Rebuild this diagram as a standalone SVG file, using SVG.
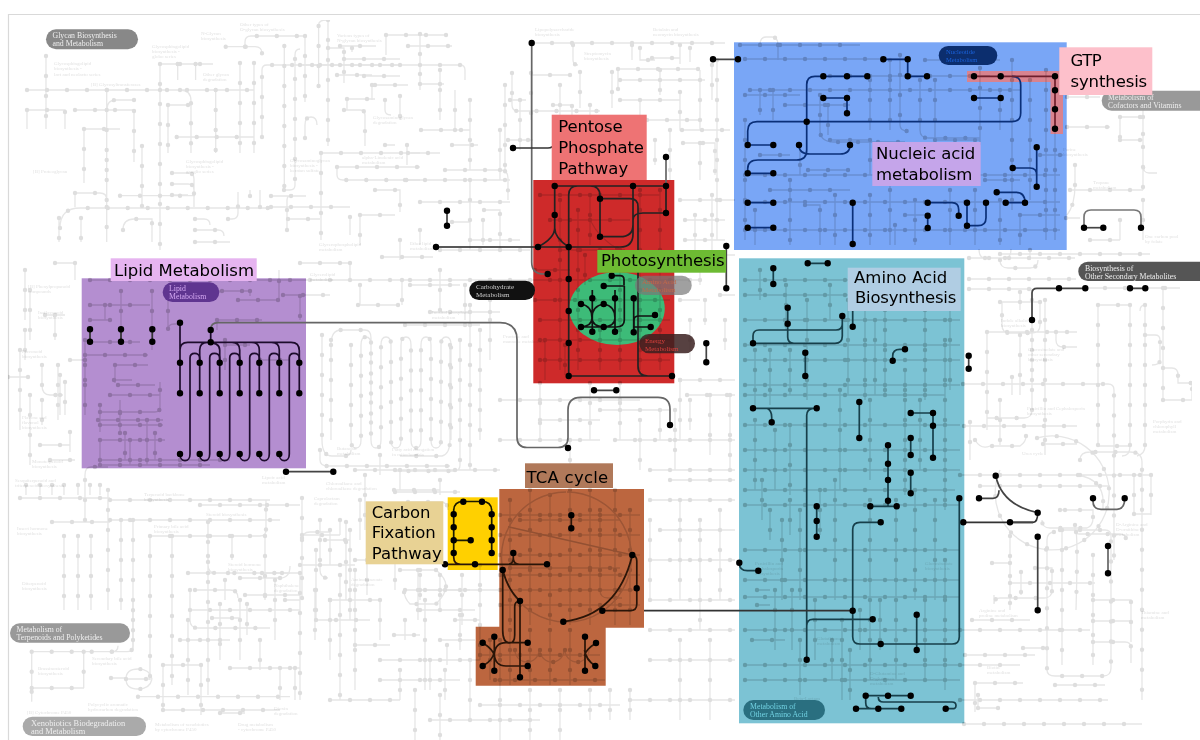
<svg xmlns="http://www.w3.org/2000/svg" width="1200" height="740" viewBox="0 0 1200 740">
<style>
.nl{stroke:#e6e6e6;stroke-width:1.3;fill:none}
.nd{stroke:#dedede;stroke-width:4.4;stroke-linecap:round;stroke-dasharray:0 20;fill:none}
.nl2{stroke:#f3f3f3;stroke-width:1.3;fill:none}
.nd2{stroke:#e8e8e8;stroke-width:4.4;stroke-linecap:round;stroke-dasharray:0 20;fill:none}
.net{mix-blend-mode:multiply;filter:url(#b)}
.ft{font:5px "Liberation Serif",serif;fill:#e2e2e2;mix-blend-mode:multiply}
.pt{font:7.8px "Liberation Serif",serif;fill:#eee}
.lb{font:16.5px "DejaVu Sans",sans-serif;fill:#000}
.k{fill:none;stroke-width:1.7;stroke-linejoin:round}
.d{fill:none;stroke:#000;stroke-width:6.4;stroke-linecap:round}
</style>
<defs>
<filter id="b" x="0" y="0" width="1" height="1"><feGaussianBlur stdDeviation="0.35"/></filter>
<clipPath id="rg"><rect x="81.700" y="278.300" width="224.300" height="190"/><rect x="734" y="42.300" width="332.700" height="207.700"/><rect x="739" y="258.300" width="225.300" height="465"/><rect x="533.300" y="180" width="141" height="203.300"/><path d="M499.300 489H644V627.700H605.700V685.700H475.700V626.700H499.300Z"/></clipPath>
<g id="net">
<path d="M27 90H254M46 56V129M27 110V129M27 110H65V129M75 110H134V162M134 100H116q-9 0-9 9M106.700 90V183M84 129H120M84 129V183M142 146V208M120 195.700H195M75 193H100q6.700 0 6.700 6.700M75 193V207M106.700 160V207M160 64V250M160 64H213M177.700 64V80M195.600 64V80M160 90H180q11 0 11 11V153M168 105V153M168 105H191M215.700 90V153M240 63V153M254 63V153M176.700 137H254M60 228q0-20 20-20H270M59 218V242M81 218V242M106.700 207V242M123 230q0-11 11-11H152V242M172 173H188q6 0 6 6V207M172 184H188q6 0 6 6M172 195H188M262 137V70q0-5 5-5H400M225.700 46.700H255q7 0 7 7M245 46.700V42q0-6 6-6H305M284.300 46V190M284 190H290q5 0 5-5V55q0-6 5-6M305 36V102M305 138V125q0-8 6-8t6 8M318.600 86V25q0-5 8-5M328 20V146M328 48H344V83M344 59H400M344 110H360q5 0 5 5V146M321 153H420M321 153V240M337 167H420M337 167V175q0 5 6 5H420M271 196H306M271 207H350M288 219H320M287 230V200q0-5 6-5M228 219H232q6 0 6-6V192M250 196V190M260 207V190M195 219H204q6 0 6 6M195 230H218q6 0 6 6M195 242H230"/>
<path d="M340 46H376M352 48V52M386 35H448M386 35V55M408 46H452M364 76H400M420 34V90M300 65H460q5 0 5 5V80M337 75H372M375 85H408M372 85V100M385 100V110q0 5 6 5M400 96V120M347 99H375M347 99V110M440 70V120M420 84H444M421 130H470M455 130V90M385 145H395M407 145V165M452 145H478M470 100V170M408 153H440M405 180H510M420 202H510M484 210H500V250M470 180V250M440 250H530M452 222H470M483 220V245M500 130V180M505 85V170M520 100V150M510 100H526M420 230V245M360 215H395M360 215V245M400 240V260M375 190H400V212M445 170H500q8 0 8 8V200M350 217V235M470 240H520M382 257H433"/>
<path d="M532 43H725M573 45V60q0 5 5 5M632 45V60M640 48V60H655M618 69H700M618 69V90M620 80H705M652 58H680V62M680 45V64M690 48V62M712 65V100M512 73V105q0 6 6 6H600M531 73V120M580 72V108M612 72V108M570 75H530M640 80H660M660 70V95M680 80H700V70M620 100H680M640 100V120M680 92V130H730M700 80V130M717 60V240M647 120H700M590 105V180M553 105H572V120M508 140H533M640 130V180M670 130V180M683 143H715V175M700 143V180M655 140V165M560 85V115"/>
<path d="M680 200H735M685 240H725M685 220H725M712 195V250M695 215V250M675 255H735M700 260V285M720 295H735M705 300V325M680 300H700M690 320V360M725 320V350M680 380H735M687 395H735M690 400V430M675 410V470M710 395V455M730 395V470M670 440H735M650 470H735M670 480H735M650 500H735M660 530H735M650 520V600M680 500V600M700 520V630M720 510V600M650 560H735M650 600H735M650 630H735M650 660H735M680 640V720M710 640V720M630 700H735M610 690V720M630 690V720"/>
<path d="M740 45H860M760 45q0-8 6-8h6q6 0 6 8M778 45V60M745 59H905M830 76H990M750 90H1020M745 95H800M760 90V115M773 90V120M785 105H850M828 105V135M820 95V130q0 12 14 12H905M890 60V130M870 80V130M900 55V125q0 6 8 6M925 60H1000M920 80V130q0 8 8 8H980M935 80V140H980M980 68V145M1000 90V130M1012 60V210M1030 80V200M1046 70V240M1055 130V240M745 175H1060M745 202H1060M745 230H1060M745 120V240M755 210V245M790 180V245M770 190H850M805 205H820V245M835 195V245M870 195V245M890 170V245M905 215H925M915 200V245M950 190V245M895 225V245M975 190V245M1000 200V245M1040 155H1063M1020 215H1060M1020 215V245M985 180H1020M760 155H790M808 170H850M800 145V175M830 140H870M870 140V175"/>
<path d="M1067 97H1100M1067 127H1110M1120 117H1143V147M1143 117V97M1120 140H1143M1120 117V140M1143 147V165q0 8 6 8H1157M1143 147V190M1070 190H1143M1066 218H1080M1090 240H1120M1120 220V240M1030 250V260M1000 254H1150M1143 200V240M1075 165V185q0 20-8 30"/>
<path d="M969 258H1075M985 258q-6 0-6-9M1005 258q6 0 6-9M1000 260q0 8 8 8H1030q8 0 8-8M969 279H1076M969 289H1032M1085 288H1180M1020 292V310M1000 302H1040V325q0 8-8 8H1010q-8 0-8-8V302M987 332H1077M1056 332V340q0 7 7 7H1077M987 332V430M1020 335V395M1012 377V395M1032 300V400M1032 330V410q0 8-8 8H987M963 384H1108q6 0 6 6V560M1082 300H1082M1098 305H1130M1098 305V446H1130M1130 305V446q0 10-8 10M1145 305V446q0 8-8 10M1145 305q-5 0-5 6M1163 288V400M1163 368H1172q6 0 6 7V383H1192M1163 400H1192V383M1145 335H1155q5 0 5 5V360q0 5-8 5M964 426H1077M970 422V460M1000 400V445M1043 444H1077M1045 300V455M975 440q6 10 15 6H1020q6-4 6-10"/>
<path d="M1037 438A57 57 0 1 1 1000 470M960 475H1078H1150M1078 475Q1105 480 1103 505V510M1080 460q0-8 10-8H1130q12 0 12 10V700M1134 475V515M1151 475V515M1134 514H1151M980 486H1110M1065 510H1080M1075 525V530q0 4 4 4H1120q6 0 6 6M1060 510H1093V518q0 8-6 10H1050q-8 0-8-8M1060 530H1105q6 0 6 6V668q0 8-8 8H1055q-8 0-8-6V540q0-8 8-8M1062 530V665M1076 532Q1078 540 1076 610M1093 555V665M1010 536V600M992 563H1010M1010 563V610M1035 568H1052V590q0 8-8 8H1000q-6 0-6 6V595M1010 583H1095M1021 572V595M1093 600H1131V642M1093 621H1131M1093 642H1125q6 0 6 6V663M972 620H1030M960 630H1090M1023 648H1048M965 655H1035M960 665H1020M975 683H1023M978 695V708M978 708H1000M960 700H1108M975 683V712M964 724H1142M1055 685H1105"/>
<path d="M90 280H700M90 305H150M105 305V320M121 291V340M152 291V350M168 291V330q0-6 6-6H180M182 291H250M250 291V296M238 300H279V270M217 320H262M217 320V330M225 340V370M225 345H250M260 360H290M283 295H330M300 296V320M90 320H112M90 342H140M85 355H148M115 365H148M115 365V383M85 365V415M85 340V395M114 380H132M100 405V432M100 412H155q5 0 5-5V382M110 395H160M118 385H155M98 420H163M100 425H163M120 433V400M155 433V460M100 440V465M100 440H165M125 433V460M147 420V465M130 440V465M100 460H230M100 465H210"/>
<path d="M55 263H75M75 263V280M300 263H350M350 263V280M42 365V385q0 10 8 10H63M58 365V420M65 382V415M70 360H85M42 400V425M70 432V452M25 270V320M60 375V415M25 330V360M8 377H30M20 350V430M30 290V340M30 395V465M50 460H75M45 315H65M55 315V340M40 445H70"/>
<path d="M322 335V440q0 16 10 16H345q6 0 6-6M331 345q0-15 10-15H365q6 0 6 8V440M351 345V440q0 8 5 8t5-8V345q0-8 5-8t5 8V440q0 8 5 8t5-8V345q0-8 5-8t5 8V440q0 8 5 8t5-8V345q0-8 5-8t5 8V440q0 8 5 8t5-8V345q0-8 5-8t5 8V440q0 8 5 8t5-8V345q0-8 5-8t5 8V440M331 340V440M450 345V440q0 14-8 16H400M320 450V460q0 6 8 6H450M460 340V465q0 6-6 6H395M470 305V470M480 330V440M490 280V360M355 470H500M380 455V475M400 470V490M395 492H460M358 305H400M360 285V305M402 280V305M410 285H460M465 285V320M430 312H500M440 270V312M405 325H480"/>
<path d="M20 498H110M26 485V495M40 485V495M52 485V495M64 485V495M78 485V495M90 485V495M100 485V495M85 520V475q0-8 6-8H108M110 520H280M110 500H270M52 522H110M64 536V610M78 536V610M91 536V610M108 490V610M121 520V610M133 520V650M150 536V680M172 536V685M208 522V640M150 536H260q6 0 6-6V500M208 536V565q0 8 8 8H290M232 536V560M265 536V600M188 573H230M267 505H300M200 505H265M302 498V600M302 535H340M285 600H300M320 520V570q0 8 8 8M340 520V535M330 530V565M350 530V620M302 540q0-8 8-8H330M325 540H350M346 522V600M240 578H280q10 0 10-12M330 600H380"/>
<path d="M31.700 651.700H112q6 0 6-6M112 651.700H127q6 0 6-6V600M31.700 651.700V701.700M83.700 651.700V688M31.700 688H84M126 679H150M126 679q0-10 12-10t14 10M126 679q0 10 12 10t14-10M111 678H126M138 696.700H290M163 665H200M201 665V715M163 710H280M163 665V710M188 620V695M208 640V695M180 640H230M230 668H300M240 600V660M260 640V670M280 668V700M295 668V700M220 713H245"/>
<path d="M190 610H300M212 618H240M195 590H230q8 0 8 8M245 595H300M220 604V660M247 604V635M275 580V640M262 573H300M225 580V600M190 590V620q0 8 8 8H270M300 573V700M330 600V660M340 575V700M355 570V690M330 700H400M316 550V620M316 620H370M300 565H355M315 590V640M355 645H390M380 600V640M405 620V640M394 635H420M425 600V690M380 680H460M400 670V700M445 670V700M415 690V740M440 695V740M380 660H480M470 660V720M500 640V740M530 690V740M560 690V740M480 705H620M590 690V720M430 720H540M420 610H475M440 575V610M420 590H500"/>
<path d="M408 502H440q8 0 8 8M394 490H440M440 480V495M380 515V550M365 475V530M360 500V540M355 560H395M395 540V590M400 570H436M420 575V600M405 520H425M436 570q10 8 10 16t-10 18H410q-6-6-6-14M405 590H470M418 570V620M367 560V595M480 565V660M462 575V625M455 620H480M440 640H475M460 615V650M430 660V690M447 645V665M500 440H600M570 440V465M640 420V470M615 440H680M500 400H640M540 383V440M590 383V440M620 383V440M680 380V440M660 410V440M600 410H670M540 420H600"/>
<path d="M540 195H660M550 220H630M560 200V370M578 210V370M590 195V245M620 250V370M640 190V370M660 190V370M535 300H670M540 320H670M540 340H670M540 360H670M600 250H625M620 300H660M590 220Q600 240 620 250M560 250H600M535 270H570M545 340V380M565 345V375M585 255V285M600 330V370"/>
<path d="M510 500V625M530 490V625M550 495V625M570 490V625M590 490V625M615 490V625M630 510V625M500 515H640M500 535H640M500 555H640M500 575H640M500 590H640M500 605H640M520 520H620M510 568H620M600 510V590q0 8 8 8H622M490 640V680M510 630V685M530 630V685M550 630V685M570 630V685M480 655H600M495 680H605M515 650a12 12 0 0 0 24 0M540 650a12 12 0 0 0 24 0M565 650a12 12 0 0 0 24 0"/>
<path d="M745 280H960M745 295H960M745 320H960M745 345H960M745 360H960M745 385H960M745 395H945M745 425H960M745 450H960M745 470H960M745 490H955M745 505H960M745 550H960M745 580H960M745 597H960M745 630H960M745 665H960M745 680H960M760 270V300M786 285V330M807 300V400M830 285V320M848 300V395M865 280V400M875 320V395M885 310V395M905 370V395M925 310V400M945 340V400M950 300V390M755 350V410M770 350V405M790 350V395M840 390V490M870 400V480M905 400V495M920 400V470M945 400V510M755 420V490M775 430V490M790 425V495M762 480V520M770 510V540M782 520V600M790 500V535M800 510V600M820 490V535M835 480V600M870 500V680M896 500V680M915 490V600M935 500V600M945 560V690M775 590V650M792 590V650M757 590H770M757 605H770M752 640H785M800 640V695M815 600V660M832 640V680M842 620V700M850 650V700M860 610V650M880 600V650M925 600V680"/>
</g>
</defs>
<rect width="1200" height="740" fill="#fff"/>
<path d="M8.500 740V14.500H1200" fill="none" stroke="#d9d9d9" stroke-width="1.200"/>
<g id="regions">
<rect x="81.700" y="278.300" width="224.300" height="190" fill="#b48ed0"/>
<rect x="734" y="42.300" width="332.700" height="207.700" fill="#79a6f6"/>
<rect x="739" y="258.300" width="225.300" height="465" fill="#7cc3d4"/>
<rect x="533.300" y="180" width="141" height="203.300" fill="#ce2a2a"/>
<rect x="447.700" y="497.300" width="50" height="72.700" fill="#ffd000"/>
<path d="M499.300 489H644V627.700H605.700V685.700H475.700V626.700H499.300Z" fill="#bc663f"/>
<ellipse cx="617" cy="308.500" rx="47.800" ry="36.500" fill="#3dbb78"/>
<path d="M967 71H1063V134H1050.500V82H967Z" fill="#d8838f"/>
</g>
<g class="net">
<use href="#net" class="nl"/>
<use href="#net" class="nd"/>
<path d="M567 492a65 65 0 1 1 -1 0" fill="none" stroke="#e4e4e4" stroke-width="1.500"/>
<path d="M508 526.700L632.300 555" fill="none" stroke="#dcdcdc" stroke-width="1.500"/>
</g>
<g clip-path="url(#rg)" style="mix-blend-mode:multiply">
<use href="#net" class="nl2"/>
<use href="#net" class="nd2"/>
<path d="M567 492a65 65 0 1 1 -1 0" fill="none" stroke="#eee" stroke-width="1.500"/>
<path d="M508 526.700L632.300 555" fill="none" stroke="#e8e8e8" stroke-width="1.500"/>
</g>
<g id="labels-faint">
<text class="ft" x="54" y="65">Glycosphingolipid</text><text class="ft" x="54" y="70">biosynthesis -</text><text class="ft" x="54" y="75.500">lact and neolacto series</text>
<text class="ft" x="91" y="86">[B] Glycosyltransferases</text>
<text class="ft" x="33" y="173">[B] Proteoglycan</text>
<text class="ft" x="240" y="26">Other types of</text><text class="ft" x="240" y="31">O-glycan biosynthesis</text>
<text class="ft" x="201" y="35">N-Glycan</text><text class="ft" x="201" y="40">biosynthesis</text>
<text class="ft" x="152" y="48">Glycosphingolipid</text><text class="ft" x="152" y="53">biosynthesis -</text><text class="ft" x="152" y="58">globo series</text>
<text class="ft" x="203" y="76">Other glycan</text><text class="ft" x="203" y="81">degradation</text>
<text class="ft" x="337" y="37">Various types of</text><text class="ft" x="337" y="42">N-glycan biosynthesis</text>
<text class="ft" x="373" y="119">Glycosaminoglycan</text><text class="ft" x="373" y="124">degradation</text>
<text class="ft" x="186" y="163">Glycosphingolipid</text><text class="ft" x="186" y="168">biosynthesis -</text><text class="ft" x="186" y="173">ganglio series</text>
<text class="ft" x="290" y="162">Glycosaminoglycan</text><text class="ft" x="290" y="167">biosynthesis -</text><text class="ft" x="290" y="172">keratan sulfate</text>
<text class="ft" x="362" y="159">alpha-Linolenic acid</text><text class="ft" x="362" y="164">metabolism</text>
<text class="ft" x="319" y="246">Glycerophospholipid</text><text class="ft" x="319" y="251">metabolism</text>
<text class="ft" x="535" y="31">Lipopolysaccharide</text><text class="ft" x="535" y="36">biosynthesis</text>
<text class="ft" x="584" y="55">Streptomycin</text><text class="ft" x="584" y="60">biosynthesis</text>
<text class="ft" x="653" y="31">Betalain and</text><text class="ft" x="653" y="36">neomycin biosynthesis</text>
<text class="ft" x="28" y="288">[B] Phenylpropanoid</text><text class="ft" x="28" y="293">compounds</text>
<text class="ft" x="38" y="314">Isoflavonoid</text><text class="ft" x="38" y="319">biosynthesis</text>
<text class="ft" x="22" y="353">Flavonoid</text><text class="ft" x="22" y="358">biosynthesis</text>
<text class="ft" x="22" y="419">Flavone and</text><text class="ft" x="22" y="424">flavonol</text><text class="ft" x="22" y="429">biosynthesis</text>
<text class="ft" x="32" y="463">Monoterpenoid</text><text class="ft" x="32" y="468">biosynthesis</text>
<text class="ft" x="15" y="482">Sesquiterpenoid and</text><text class="ft" x="15" y="487">triterpenoid biosynthesis</text>
<text class="ft" x="144" y="496">Terpenoid backbone</text><text class="ft" x="144" y="501">biosynthesis</text>
<text class="ft" x="206" y="516">Steroid biosynthesis</text>
<text class="ft" x="154" y="528">Primary bile acid</text><text class="ft" x="154" y="533">biosynthesis</text>
<text class="ft" x="17" y="530">Insect hormone</text><text class="ft" x="17" y="535">biosynthesis</text>
<text class="ft" x="22" y="585">Diterpenoid</text><text class="ft" x="22" y="590">biosynthesis</text>
<text class="ft" x="228" y="566">Steroid hormone</text><text class="ft" x="228" y="571">biosynthesis</text>
<text class="ft" x="274" y="587">Naphthalene</text><text class="ft" x="274" y="592">degradation</text>
<text class="ft" x="351" y="581">Aminobenzoate</text><text class="ft" x="351" y="586">degradation</text>
<text class="ft" x="38" y="670">Brassinosteroid</text><text class="ft" x="38" y="675">biosynthesis</text>
<text class="ft" x="92" y="660">Secondary bile acid</text><text class="ft" x="92" y="665">biosynthesis</text>
<text class="ft" x="88" y="706">Polycyclic aromatic</text><text class="ft" x="88" y="711">hydrocarbon degradation</text>
<text class="ft" x="155" y="726">Metabolism of xenobiotics</text><text class="ft" x="155" y="731">by cytochrome P450</text>
<text class="ft" x="238" y="726">Drug metabolism</text><text class="ft" x="238" y="731">- cytochrome P450</text>
<text class="ft" x="274" y="710">Dioxin</text><text class="ft" x="274" y="715">degradation</text>
<text class="ft" x="27" y="714">[B] Cytochrome P450</text>
<text class="ft" x="337" y="450">Butanoate</text><text class="ft" x="337" y="455">metabolism</text>
<text class="ft" x="392" y="451">Fatty acid elongation</text><text class="ft" x="392" y="456">in mitochondria</text>
<text class="ft" x="262" y="479">Lipoic acid</text><text class="ft" x="262" y="484">metabolism</text>
<text class="ft" x="326" y="485">Chloroalkane and</text><text class="ft" x="326" y="490">chloroalkene degradation</text>
<text class="ft" x="314" y="500">Caprolactam</text><text class="ft" x="314" y="505">degradation</text>
<text class="ft" x="410" y="245">Ether lipid</text><text class="ft" x="410" y="250">metabolism</text>
<text class="ft" x="310" y="276">Glycerolipid</text><text class="ft" x="310" y="281">metabolism</text>
<text class="ft" x="432" y="314">Inositol phosphate</text><text class="ft" x="432" y="319">metabolism</text>
<text class="ft" x="503" y="338">Fructose and</text><text class="ft" x="503" y="343">mannose metabolism</text>
<text class="ft" x="1001" y="322">Indole alkaloid</text><text class="ft" x="1001" y="327">biosynthesis</text>
<text class="ft" x="1028" y="351">Glucosinolate and</text><text class="ft" x="1028" y="356">other secondary</text><text class="ft" x="1028" y="361">biosynthesis</text>
<text class="ft" x="1027" y="410">Penicillin and Cephalosporin</text><text class="ft" x="1027" y="415">biosynthesis</text>
<text class="ft" x="1153" y="423">Porphyrin and</text><text class="ft" x="1153" y="428">chlorophyll</text><text class="ft" x="1153" y="433">metabolism</text>
<text class="ft" x="1022" y="455">Urea cycle</text>
<text class="ft" x="1116" y="526">D-Arginine and</text><text class="ft" x="1116" y="531">D-ornithine</text><text class="ft" x="1116" y="536">metabolism</text>
<text class="ft" x="979" y="612">Arginine and</text><text class="ft" x="979" y="617">proline metabolism</text>
<text class="ft" x="1141" y="614">Thiamine and</text><text class="ft" x="1141" y="619">metabolism</text>
<text class="ft" x="987" y="669">Biotin</text><text class="ft" x="987" y="674">metabolism</text>
<text class="ft" x="1063" y="151">Purine</text><text class="ft" x="1063" y="156">biosynthesis</text>
<text class="ft" x="1093" y="184">Tropane</text><text class="ft" x="1093" y="189">metabolism</text>
<text class="ft" x="1145" y="238">One carbon pool</text><text class="ft" x="1145" y="243">by folate</text>
<text class="ft" x="794" y="700">Beta-Lactam</text><text class="ft" x="794" y="705">resistance</text>
<text class="ft" x="817" y="640">Glutathione</text><text class="ft" x="817" y="645">metabolism</text>
<text class="ft" x="755" y="565">Penicillin and</text><text class="ft" x="755" y="570">cephalosporin</text><text class="ft" x="755" y="575">biosynthesis</text>
<text class="ft" x="870" y="675">D-Glutamine and</text><text class="ft" x="870" y="680">D-glutamate</text><text class="ft" x="870" y="685">metabolism</text>
<text class="ft" x="925" y="565">Glucosinolate</text><text class="ft" x="925" y="570">biosynthesis</text>
</g>
<g id="path-misc">
<path class="k" stroke="#444" d="M713 59.300H738M447 210.700V225.700M594 390.300H616.300M706.300 343.300V362.300M726.300 246V288.300M968.700 355.700V368.700M286 471.700H333.300"/>
<path class="d" d="M713 59.300h.01M738 59.300h.01M447 210.700h.01M447 225.700h.01M594 390.300h.01M616.300 390.300h.01M706.300 343.300h.01M706.300 362.300h.01M726.300 246h.01M726.300 288.300h.01M968.700 355.700h.01M968.700 368.700h.01M286 471.700h.01M333.300 471.700h.01"/>
</g>
<g id="path-pentose">
<path class="k" stroke="#666" stroke-width="2" d="M531.700 43V262q0 12 12 12H547.700"/>
<path class="k" stroke="#333" d="M513 148H548q5 0 6-4"/>
<path class="k" stroke="#666" d="M666 157V186"/>
<path class="k" stroke="#222" d="M436 247H620q13 0 13-13V186M554.700 186H666V213H643q-10 0-10 7M554.700 186V215V228q0 10-16.700 19M554.700 228q0 10 14 19M568.700 247V376H672M568.700 247V195q0-9 9-9H590q10 0 10 10V236.700H620q13 0 13-12M600 198.700H630q8 0 8 8V366q0 10 10 10H672"/>
<path class="d" d="M531.700 43h.01M513 148h.01M547.700 274h.01M666 157h.01M666 186h.01M666 213h.01M633 186h.01M554.700 186h.01M554.700 215h.01M538 247h.01M568.700 247h.01M436 247h.01M568.700 279h.01M568.700 311h.01M568.700 343h.01M568.700 376h.01M672 376h.01M600 198.700h.01M600 236.700h.01"/>
</g>
<g id="path-photosynthesis">
<path class="k" stroke="#111" d="M611.700 275.700H620q4 0 4 4V285M603.700 286H624.300V320q0 7-8 7H581M592.300 290V331.700M615 290V331.700M581 304Q592 306 592 318Q592 326 581 327M603.700 304Q592 306 592 318Q592 326 603.700 327M603.700 304Q615 306 615 318Q615 326 603.700 327M633.700 298.300V332.300M634 330V320q0-4 5-4H655M634 327H650"/>
<path class="d" d="M611.700 275.700h.01M603.700 286h.01M581 304h.01M581 327h.01M592.300 298.300h.01M592.300 331.700h.01M603.700 304h.01M603.700 327h.01M615 298.300h.01M615 331.700h.01M633.700 298.300h.01M633.700 332.300h.01M655 315h.01M650.700 327h.01"/>
</g>
<g id="path-lipid">
<path class="k" stroke="#1d0c2c" d="M180 322.700V393.300M210.700 330V342.300M180 362.700V350q0-7.700 7.700-7.700H291q8.300 0 8.300 8.300V393.300M199.700 393.300V350q0-7.700 7.700-7.700q12.300 0 12.300 7.700V393.300M232 342.300q7.700 0 7.700 7.700V393.300M251.600 342.300q7.700 0 7.700 7.700V393.300M271.600 342.300q7.700 0 7.700 7.700V393.300"/>
<path class="k" stroke="#1d0c2c" d="M180 454c0 4 2 6.700 5 6.700s5-2.700 5-6.700V358c0-3 2-4.700 4.700-4.700s5 1.700 5 4.700V362.700M199.700 454c0 4 2 6.700 5 6.700s5-2.700 5-6.700V358c0-3 2-4.700 4.700-4.700s5.300 1.700 5.300 4.700V362.700M219.700 454c0 4 2 6.700 5 6.700s5-2.700 5-6.700V358c0-3 2-4.700 4.700-4.700s5.300 1.700 5.300 4.700V362.700M239.700 454c0 4 2 6.700 5 6.700s5-2.700 5-6.700V358c0-3 2-4.700 4.700-4.700s5 1.700 5 4.700V362.700M259.300 454c0 4 2 6.700 5 6.700s5-2.700 5-6.700V358c0-3 2-4.700 4.700-4.700s5.300 1.700 5.300 4.700V362.700M279.300 454c0 4 2 6.700 5 6.700s5-2.700 5-6.700V358c0-3 2-4.700 4.700-4.700s5.300 1.700 5.300 4.700V362.700"/>
<path class="k" stroke="#333" d="M90 329.300V341.700M121 329.300V341.700M152.300 329.300V341.700"/>
<path class="k" stroke="#666" d="M210.700 330q0-7.300 7.300-7.300H500q17 0 17 17V437q0 10.500 10 10.500H558q10 0 10-10V410q0-12.700 12.700-12.700H658q12 0 12 12V425"/>
<path class="d" d="M180 322.700h.01M210.700 330h.01M210.700 342.300h.01M180 362.700h.01M199.700 362.700h.01M219.700 362.700h.01M239.700 362.700h.01M259.300 362.700h.01M279.300 362.700h.01M299.300 362.700h.01M180 393.300h.01M199.700 393.300h.01M219.700 393.300h.01M239.700 393.300h.01M259.300 393.300h.01M279.300 393.300h.01M299.300 393.300h.01M180 454h.01M199.700 454h.01M219.700 454h.01M239.700 454h.01M259.300 454h.01M279.300 454h.01M90 329.300h.01M90 341.700h.01M121 329.300h.01M121 341.700h.01M152.300 329.300h.01M152.300 341.700h.01M568 448h.01M670 425h.01"/>
</g>
<g id="path-nucleic">
<path class="k" stroke="#0a2f78" d="M883.300 59.300H907.700V76.300H927M867.300 76.300H815q-8.300 0-8.300 8.300V150q0 10-10 10H758q-10.300 0-10.300 8.700V173.300H773.300M747.700 145V131q0-9.300 9.300-9.300H1012q8.700 0 8.700-8.700V85q0-8.700-8.700-8.700M747.700 145H773.300M799 145q0 9 11 9H840q10 0 10-9M823.300 98H847V113.300M974 98H1000.700M1036.700 147.300V186.700M1012.700 168H1030q6.700 0 6.700 7M852.700 202.700V244M747.700 202.700H773.300M747.700 227.700H773.300M927.700 202.700H952q6.700 0 6.700 7V215.700M927.700 215.700V228M967 202.700V225.700H978q8 0 8-8V202.700M996.700 192.300H1016q9 0 9 10.400M1005.700 202.700H1025"/>
<path class="k" stroke="#6e1f2c" d="M974 76.300H1055V128.700"/>
<path class="k" stroke="#777" stroke-width="2" d="M1084 227.700V217q0-7 7-7H1134q7 0 7 7V227.700"/>
<path class="k" stroke="#444" d="M1084 227.700H1103.300"/>
<path class="d" d="M883.300 59.300h.01M907.700 59.300h.01M907.700 76.300h.01M927 76.300h.01M823.300 76.300h.01M847 76.300h.01M867.300 76.300h.01M806.700 121.700h.01M747.700 145h.01M773.300 145h.01M799 145h.01M850 145h.01M747.700 173.300h.01M773.300 173.300h.01M823.300 98h.01M847 98h.01M847 113.300h.01M974 76.300h.01M1000.700 76.300h.01M1055 76.300h.01M1055 90.300h.01M1055 109.300h.01M1055 128.700h.01M974 98h.01M1000.700 98h.01M1036.700 147.300h.01M1036.700 186.700h.01M1012.700 168h.01M852.700 202.700h.01M852.700 244h.01M747.700 202.700h.01M773.300 202.700h.01M747.700 227.700h.01M773.300 227.700h.01M927.700 202.700h.01M958.700 215.700h.01M927.700 215.700h.01M927.700 228h.01M967 202.700h.01M967 225.700h.01M986 202.700h.01M996.700 192.300h.01M1005.700 202.700h.01M1025 202.700h.01M1084 227.700h.01M1103.300 227.700h.01M1141 227.700h.01"/>
</g>
<g id="path-amino">
<path class="k" stroke="#173f4a" d="M773.300 268.300V284M807.700 263.300H827.700M787.700 307.700V337q0 6.300 6.300 6.300M753 343.300H835q7.300 0 7.300-7.300V316M753 343.300V336q0-6 6-6H836q6.300 0 6.300-6M852.700 311V326.700M805.300 352.700V376M892.700 360.700V356q0-6.700 7-6.700H905M753 408.300H816.700M767 408.300q4.700 2 4.700 9V422.300M813 408.300q-6.300 1-6.300 7V659.700M859.300 402V438M910.700 413H933V457.700M910.700 438V455M910.700 472.700V493.300M888 445.300V506.300M870.300 506.300H896.700M816.700 506.300V536.700M880.700 522.300H860q-7.300 0-7.300 7.300V636.700q0 7.300 7.300 7.300H952q7.300 0 7.300-7.300V498.300M806.700 626q0-6.700 6-6.700H872.700M916.700 614.700V650M739.300 562.700q0 8 8 8H758.300M865.700 695.700H910.700M865.700 695.700v7q0 6 6 6M856 708.700H901.300M878.300 697q0 5 5 5H952q4 0 4 3.500t-4 3.200H945.700"/>
<path class="k" stroke="#333" d="M644 610.700H852.700M963.300 522.300H1033q4.700 0 4.700-9.600"/>
<path class="d" d="M773.300 268.300h.01M773.300 284h.01M807.700 263.300h.01M827.700 263.300h.01M787.700 307.700h.01M787.700 323.700h.01M753 343.300h.01M842.300 316h.01M852.700 326.700h.01M805.300 352.700h.01M805.300 376h.01M892.700 360.700h.01M905 349.300h.01M753 408.300h.01M771.700 422.300h.01M816.700 408.300h.01M806.700 659.700h.01M859.300 402h.01M859.300 438h.01M910.700 413h.01M933 413h.01M933 425.700h.01M933 457.700h.01M910.700 438h.01M910.700 455h.01M910.700 472.700h.01M910.700 493.300h.01M888 445.300h.01M888 463.700h.01M888 480h.01M888 500.700h.01M870.300 506.300h.01M896.700 506.300h.01M816.700 506.300h.01M816.700 521h.01M816.700 536.700h.01M880.700 522.300h.01M959.300 498.300h.01M852.700 610.700h.01M880.700 644h.01M872.700 619.300h.01M916.700 614.700h.01M916.700 650h.01M739.300 562.700h.01M758.300 570.700h.01M865.700 695.700h.01M888 695.700h.01M910.700 695.700h.01M856 708.700h.01M878.300 708.700h.01M901.300 708.700h.01M945.700 708.700h.01M963.300 522.300h.01"/>
</g>
<g id="path-right">
<path class="k" stroke="#444" d="M1032 320V293q0-4.700 5-4.700H1085.300M1130 288.300H1145.300M1010 522.300H1033M979 498.300H993q6 0 6-8M995.700 475.700Q1002 505 1037.700 512.700M1037.700 536.700V610.300"/>
<path class="k" stroke="#666" stroke-width="2" d="M1108 546V573.300M1093 498.300v3q0 8 8 8H1117q7.700 0 7.700-11"/>
<path class="d" d="M1032 320h.01M1059 288.300h.01M1085.300 288.300h.01M1130 288.300h.01M1145.300 288.300h.01M995.700 475.700h.01M1037.700 512.700h.01M979 498.300h.01M1010 522.300h.01M1037.700 536.700h.01M1037.700 610.300h.01M1108 546h.01M1108 573.300h.01M1093 498.300h.01M1124.700 498.300h.01"/>
</g>
<g id="path-tca">
<path class="k" stroke="#1a1a00" d="M453.700 553V511q0-9.500 9.500-9.500H482q9.700 0 9.700 9.700V553M453.700 540.300H470.700"/>
<path class="k" stroke="#2a1508" d="M445 564.300H547M453.700 553v4q0 7.300 7 7.300M513.300 553V558q0 6.300-6 6.300M513.300 558q0 6.300 6 6.300M502.700 570V630q0 13 7 13q5 0 5-8V606.700q0-5.700 5.300-5.700M502.700 570Q508 590 520 601V677.300M494.300 636.700V670.700M482.700 642.700Q494 650 494.300 656M482.700 666Q494 660 494.300 650M527.700 642.700H506q-11 0-11.700 12M527.700 666H506q-11 0-11.700-12M585 636.700V670.700M596 643Q585 650 584.500 656M595.300 666Q586 660 584.500 650M571.300 515.300V528.300M632.300 555Q618 615 563.300 621.700M632.300 555q4.500 1 4.500 6V604q0 6.700-6.700 6.700H602.300"/>
<path class="d" d="M463.300 501.700h.01M482 501.700h.01M453.700 514.300h.01M453.700 527.300h.01M453.700 540.300h.01M453.700 553h.01M491.700 514.300h.01M491.700 527.300h.01M491.700 540.300h.01M491.700 553h.01M470.700 540.300h.01M445 564.300h.01M475 564.300h.01M547 564.300h.01M513.300 553h.01M502.700 570h.01M520 601h.01M520 677.300h.01M494.300 636.700h.01M494.300 670.700h.01M482.700 642.700h.01M482.700 666h.01M527.700 642.700h.01M527.700 666h.01M585 636.700h.01M585 670.700h.01M596 643h.01M595.300 666h.01M571.300 515.300h.01M571.300 528.300h.01M632.300 555h.01M563.300 621.700h.01M602.300 610.700h.01M636.700 588.300h.01"/>
</g>
<g id="pills">
<g id="pill-glycan"><rect x="46" y="29.300" width="92" height="20" rx="10" fill="#888"/><text class="pt" x="52.500" y="38.300">Glycan Biosynthesis</text><text class="pt" x="52.500" y="46">and Metabolism</text></g>
<g id="pill-nucleotide"><rect x="938.700" y="46" width="58.600" height="19" rx="9.500" fill="#0c2e6e"/><text class="pt" x="946" y="54" style="fill:#1a62dc;font-size:6.600px">Nucleotide</text><text class="pt" x="946" y="62" style="fill:#1a62dc;font-size:6.600px">Metabolism</text></g>
<g id="pill-cofactors"><rect x="1101.700" y="90.700" width="110" height="20" rx="10" fill="#999"/><text class="pt" x="1108" y="100">Metabolism of</text><text class="pt" x="1108" y="108">Cofactors and Vitamins</text></g>
<g id="pill-secondary"><rect x="1078.300" y="261.700" width="140" height="19.300" rx="9.600" fill="#555"/><text class="pt" x="1085" y="271">Biosynthesis of</text><text class="pt" x="1085" y="278.500">Other Secondary Metabolites</text></g>
<g id="pill-lipid"><rect x="162.700" y="282.300" width="56.600" height="19.700" rx="9.800" fill="#5f3590"/><text class="pt" x="169" y="291" style="fill:#d4a8f2">Lipid</text><text class="pt" x="169" y="299" style="fill:#d4a8f2">Metabolism</text></g>
<g id="pill-carbohydrate"><rect x="469.300" y="280.700" width="65.700" height="19.300" rx="9.600" fill="#111"/><text class="pt" x="476" y="289" style="fill:#ccc;font-size:7px">Carbohydrate</text><text class="pt" x="476" y="297" style="fill:#ccc;font-size:7px">Metabolism</text></g>
<g id="pill-amino"><rect x="635" y="275.700" width="56.700" height="19.300" rx="9.600" fill="#777" fill-opacity=".7"/><text class="pt" x="642" y="284" style="fill:#c0684a;font-size:7px">Amino Acid</text><text class="pt" x="642" y="292" style="fill:#c0684a;font-size:7px">Metabolism</text></g>
<g id="pill-energy"><rect x="639.300" y="334" width="55.700" height="19.300" rx="9.600" fill="#3a2020" fill-opacity=".85"/><text class="pt" x="645" y="343" style="fill:#d8403c;font-size:7px">Energy</text><text class="pt" x="645" y="351" style="fill:#d8403c;font-size:7px">Metabolism</text></g>
<g id="pill-other-amino"><rect x="743.300" y="700" width="81.700" height="20" rx="10" fill="#2a6f80"/><text class="pt" x="750" y="709" style="fill:#72d2e2">Metabolism of</text><text class="pt" x="750" y="717" style="fill:#72d2e2">Other Amino Acid</text></g>
<g id="pill-terpenoids"><rect x="10" y="623.300" width="120" height="19.400" rx="9.700" fill="#999"/><text class="pt" x="16.500" y="631.700">Metabolism of</text><text class="pt" x="16.500" y="639.500">Terpenoids and Polyketides</text></g>
<g id="pill-xenobiotics"><rect x="22.700" y="716.700" width="123.300" height="19.300" rx="9.600" fill="#aaa"/><text class="pt" x="31" y="726" style="font-size:8.400px">Xenobiotics Biodegradation</text><text class="pt" x="31" y="734" style="font-size:8.400px">and Metabolism</text></g>
</g>
<g id="label-gtp"><rect x="1059.300" y="47.300" width="93" height="47.700" fill="#fdc0cb"/><text class="lb" x="1070.500" y="66" textLength="31.300">GTP</text><text class="lb" x="1070.500" y="86.700" textLength="76.700">synthesis</text></g>
<g id="label-nucleic"><rect x="872.300" y="142" width="108.400" height="44" fill="#c5a5ea"/><text class="lb" x="876" y="159.300" textLength="99.300">Nucleic acid</text><text class="lb" x="876" y="180" textLength="96.300">metabolism</text></g>
<g id="label-pentose"><rect x="551.700" y="114.700" width="95" height="65.300" fill="#ee7374"/><text class="lb" x="558.300" y="132.300" textLength="64.300">Pentose</text><text class="lb" x="558.300" y="153.300" textLength="85.700">Phosphate</text><text class="lb" x="558.300" y="174" textLength="70">Pathway</text></g>
<g id="label-photosynthesis"><rect x="597.300" y="250" width="128.700" height="22.700" fill="#6dbb33"/><text class="lb" x="601" y="265.700" textLength="123.700">Photosynthesis</text></g>
<g id="label-lipid"><rect x="110.700" y="258.300" width="146" height="22.700" fill="#e6b4f0"/><text class="lb" x="114" y="276" textLength="140">Lipid Metabolism</text></g>
<g id="label-amino"><rect x="847.700" y="267.700" width="113" height="43.300" fill="#b0cde3"/><text class="lb" x="854" y="283.300" textLength="93.300">Amino Acid</text><text class="lb" x="855" y="303.300" textLength="101.300">Biosynthesis</text></g>
<g id="label-tca"><rect x="525" y="463.300" width="88" height="24.700" fill="#b0795a"/><text class="lb" x="526.500" y="482.700" textLength="81.700">TCA cycle</text></g>
<g id="label-carbon"><rect x="365.700" y="501.300" width="77.600" height="63" fill="#e8d294"/><text class="lb" x="371.700" y="518.300" textLength="58.700">Carbon</text><text class="lb" x="371.700" y="538.300" textLength="64">Fixation</text><text class="lb" x="371.700" y="559.300" textLength="70">Pathway</text></g>
</svg>
